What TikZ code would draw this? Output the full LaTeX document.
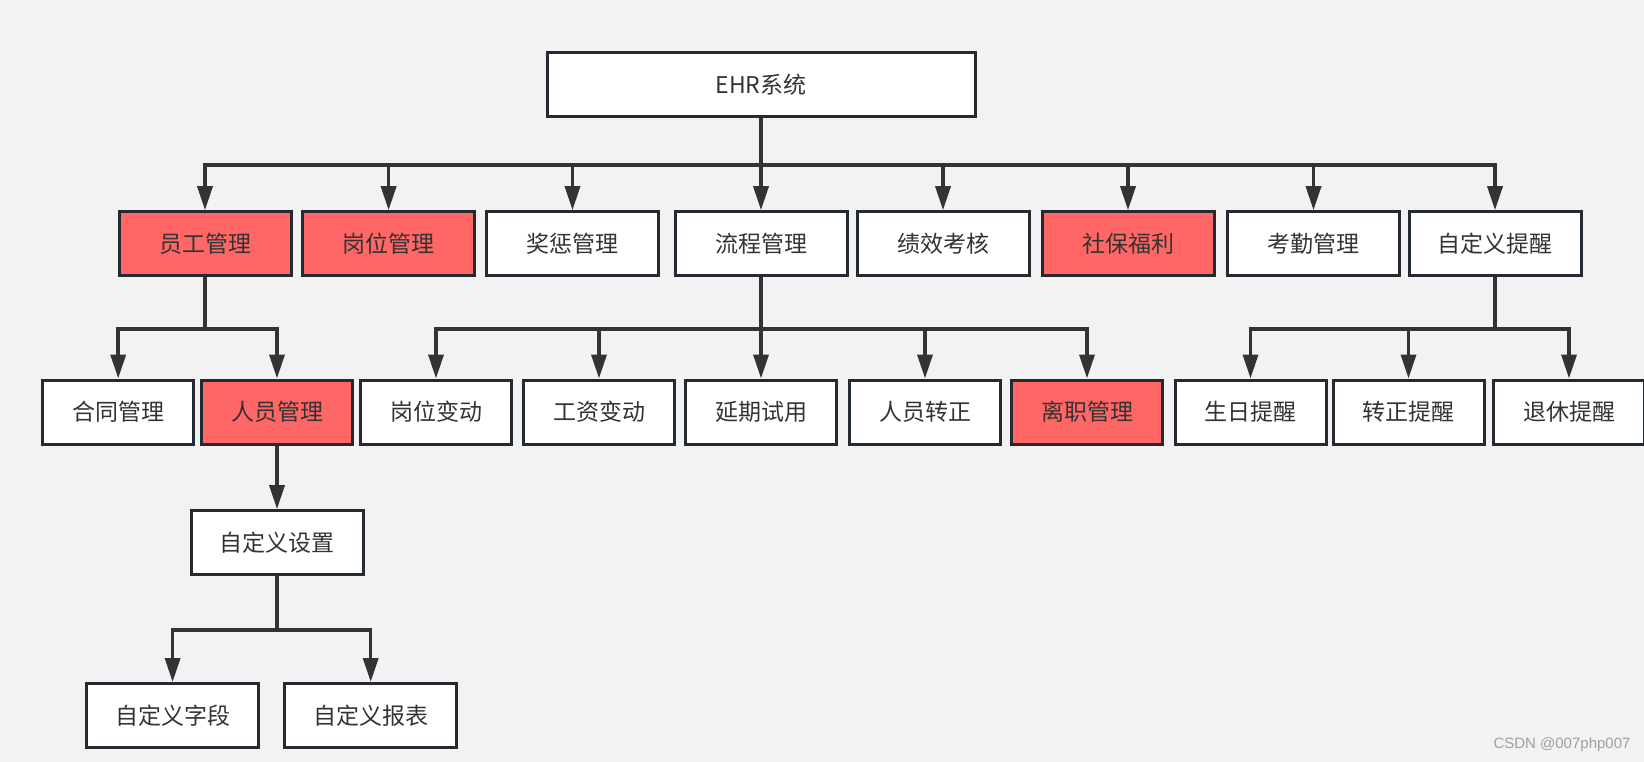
\documentclass[tikz,border=0pt]{standalone}
\usepackage{fontspec}
\setmainfont{Noto Sans CJK SC}
\newfontfamily\marksans{Liberation Sans}
\usepackage{xcolor}
\definecolor{canvas}{HTML}{F2F2F2}
\definecolor{boxline}{HTML}{232A31}
\definecolor{wire}{HTML}{333333}
\definecolor{alert}{HTML}{FF6666}
\definecolor{inktext}{HTML}{333333}
\definecolor{marktext}{HTML}{A0A0A0}
\usepackage{tikz}
\usetikzlibrary{arrows.meta, positioning}

\begin{document}
\begin{tikzpicture}[x=1pt, y=-1pt,
  box/.style={draw=boxline, line width=3pt, fill=white, text=inktext,
    minimum height=64pt, inner sep=0pt, font=\fontsize{23}{27}\selectfont},
  topbox/.style={box, minimum width=428pt},
  midbox/.style={box, minimum width=172pt},
  leafbox/.style={box, minimum width=151pt},
  hot/.style={fill=alert},
  wireline/.style={draw=wire, line width=3.5pt},
  wirearrow/.style={wireline, -{Triangle[length=24pt, width=15pt]}}]
  \fill[canvas] (0,0) rectangle (1644,762);
  \useasboundingbox (0,0) rectangle (1644,762);

  % root
  \node[topbox] (ehr) at (761,84.5) {EHR系统};

  % level 1
  \node[midbox, hot] (staff)   at (205,243.7)  {员工管理};
  \node[midbox, hot] (post)    at (388.6,243.7) {岗位管理};
  \node[midbox]      (reward)  at (572.5,243.7) {奖惩管理};
  \node[midbox]      (flow)    at (761,243.7)  {流程管理};
  \node[midbox]      (perf)    at (943,243.7)  {绩效考核};
  \node[midbox, hot] (welfare) at (1128,243.7) {社保福利};
  \node[midbox]      (attend)  at (1313.5,243.7) {考勤管理};
  \node[midbox]      (remind)  at (1495,243.7) {自定义提醒};

  % level 2
  \node[leafbox]      (contract)   at (118.2,412) {合同管理};
  \node[leafbox, hot] (people)     at (277,412)   {人员管理};
  \node[leafbox]      (move)       at (436,412)   {岗位变动};
  \node[leafbox]      (wage)       at (599,412)   {工资变动};
  \node[leafbox]      (delay)      at (761,412)   {延期试用};
  \node[leafbox]      (confirm)    at (925,412)   {人员转正};
  \node[leafbox, hot] (leave)      at (1087,412)  {离职管理};
  \node[leafbox]      (birth)      at (1250.5,412) {生日提醒};
  \node[leafbox]      (confirmtip) at (1408.5,412) {转正提醒};
  \node[leafbox]      (retire)     at (1569,412)  {退休提醒};

  % level 3 and 4
  \node[midbox] (custom) at (277,542.7)   {自定义设置};
  \node[midbox] (field)  at (172.6,715.5) {自定义字段};
  \node[midbox] (report) at (370.7,715.5) {自定义报表};

  % bus points
  \coordinate (hub)       at (761,165);
  \coordinate (staffhub)  at (205,329);
  \coordinate (flowhub)   at (761,329);
  \coordinate (remindhub) at (1495,329);
  \coordinate (customhub) at (277,630);

  \draw[wireline] (ehr.south) -- (hub);
  \foreach \kid in {staff,post,reward,flow,perf,welfare,attend,remind}
    \draw[wirearrow] (hub) -| (\kid.north);

  \draw[wireline] (staff.south) -- (staffhub);
  \foreach \kid in {contract,people}
    \draw[wirearrow] (staffhub) -| (\kid.north);

  \draw[wireline] (flow.south) -- (flowhub);
  \foreach \kid in {move,wage,delay,confirm,leave}
    \draw[wirearrow] (flowhub) -| (\kid.north);

  \draw[wireline] (remind.south) -- (remindhub);
  \foreach \kid in {birth,confirmtip,retire}
    \draw[wirearrow] (remindhub) -| (\kid.north);

  \draw[wirearrow] (people.south) -- (custom.north);
  \draw[wireline] (custom.south) -- (customhub);
  \foreach \kid in {field,report}
    \draw[wirearrow] (customhub) -| (\kid.north);

  % watermark
  \node[text=marktext, font=\marksans\fontsize{15}{17}\selectfont] (mark) at (1562,745) {CSDN @007php007};
\end{tikzpicture}
\end{document}
